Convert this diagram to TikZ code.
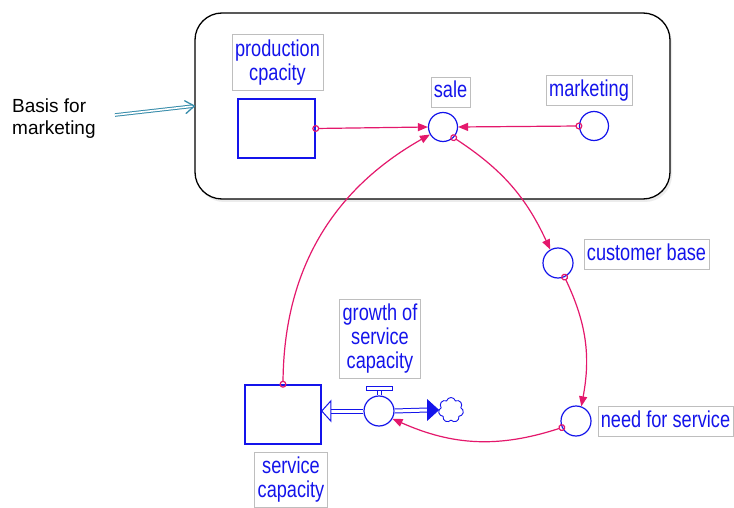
\documentclass[tikz,border=0pt]{standalone}
\usepackage{fontspec}
\setmainfont{Liberation Sans}
\newfontfamily\vensimfont[FakeStretch=0.79]{Liberation Sans}
\usetikzlibrary{arrows.meta,shapes.symbols,shadows}
\definecolor{linkred}{RGB}{228,24,108}
\definecolor{varblue}{RGB}{20,20,235}
\definecolor{boxgray}{RGB}{190,190,190}
\definecolor{noteteal}{RGB}{55,140,170}

\begin{document}
\begin{tikzpicture}[x=1pt, y=1pt,
		lbl/.style={draw=boxgray, line width=0.6pt, text=varblue, inner xsep=3pt, inner ysep=5pt, align=center, font=\vensimfont\fontsize{23}{24}\selectfont},
		onel/.style={lbl, text height=17pt, text depth=5pt, inner ysep=4pt},
		aux/.style={circle, draw=varblue, line width=1.2pt, minimum size=29pt, inner sep=0pt},
		stock/.style={rectangle, draw=varblue, line width=1.5pt, inner sep=0pt},
		link/.style={draw=linkred, line width=1.2pt, shorten <=-3.5pt, {Circle[open,length=7pt,line width=1.2pt]}-{Triangle[length=10pt,width=8pt]}},
		pipe/.style={draw=varblue, line width=1pt, double=white, double distance=3pt}
	]
	\fill[white] (0,0) rectangle (734,-508);
	\useasboundingbox (0,0) rectangle (734,-508);
	% the marketing frame
	\node[draw, fill=white, line width=1.3pt, rounded corners=27pt, minimum width=475pt, minimum height=186pt,
		drop shadow={shadow xshift=2pt, shadow yshift=-3pt, opacity=.15}] (frame) at (432.5,-106) {};
	\node[anchor=north west, inner sep=0pt, align=left, font=\fontsize{19}{22.5}\selectfont] (basis) at (12,-98.5) {Basis for\\marketing};
	\coordinate (basis tip) at (115,-115);
	\draw[noteteal, line width=1pt, double=white, double distance=1.6pt, shorten >=1.5pt] (basis tip) -- (frame.west);
	\draw[noteteal, line width=1.3pt, line cap=round, line join=round] ([shift={(-9.7,5.2)}]frame.west) -- (frame.west) -- ([shift={(-8.2,-7.4)}]frame.west);

	% stocks and variables
	\node[stock, minimum width=77pt, minimum height=59pt] (prod) at (276.5,-128.5) {};
	\node[stock, minimum width=76pt, minimum height=59pt] (serv) at (283,-414.5) {};
	\node[aux] (sale) at (443,-127) {};
	\node[aux] (mkt) at (594,-126) {};
	\node[aux, minimum size=30pt] (cust) at (558,-263) {};
	\node[aux, minimum size=30pt] (need) at (576,-421) {};
	\node[aux, minimum size=30pt] (valve) at (379,-411) {};
	\node[cloud, cloud puffs=7, aspect=1, draw=varblue, line width=0.9pt, minimum width=25pt, minimum height=25pt, inner sep=0pt] (cloud) at (451,-410) {};

	% valve handle
	\draw[varblue, line width=0.8pt] ([xshift=-2pt]valve.north) -- ++(0,5) ([xshift=2pt]valve.north) -- ++(0,5);
	\draw[varblue, line width=0.8pt] ([shift={(-13pt,5pt)}]valve.north) rectangle ([shift={(13pt,9pt)}]valve.north);

	% labels
	\node[lbl] (prod lbl) at (277.5,-62.5) {production\\cpacity};
	\node[onel] (sale lbl) at (450.5,-92) {sale};
	\node[onel] (mkt lbl) at (589,-90.5) {marketing};
	\node[onel] (cust lbl) at (646.5,-254) {customer base};
	\node[onel] (need lbl) at (665.5,-421.5) {need for service};
	\node[lbl] (growth lbl) at (380,-339) {growth of\\service\\capacity};
	\node[lbl, anchor=north] (serv lbl) at (291,-452) {service\\capacity};

	% flow pipes and their heads
	\coordinate (in head) at ([xshift=9pt]serv.east |- valve.west);
	\coordinate (out head) at ([xshift=-11pt]cloud.west);
	\draw[pipe] (valve.west) -- (in head);
	\draw[pipe] (valve.east) -- (out head);
	\draw[varblue, fill=white, line width=1pt, line join=miter] (in head) ++(0,10) -- (serv.east |- valve.west) -- ([yshift=-10pt]in head) -- cycle;
	\draw[varblue, fill=varblue, line width=0.8pt] (out head) ++(0,10) -- (cloud.west) -- ([yshift=-10pt]out head) -- cycle;

	% links
	\draw[link] (prod.east) -- (sale.west);
	\draw[link] (mkt.west) -- (sale.east);
	\draw[link] (sale.-45) to[bend left=16] (cust.120);
	\draw[link] (cust.-65) to[bend left=18] (need.70);
	\draw[link] (need.-155) to[bend left=21] (valve.-30);
	\draw[link] (serv.north) to[bend left=30] (sale.-150);
\end{tikzpicture}
\end{document}
